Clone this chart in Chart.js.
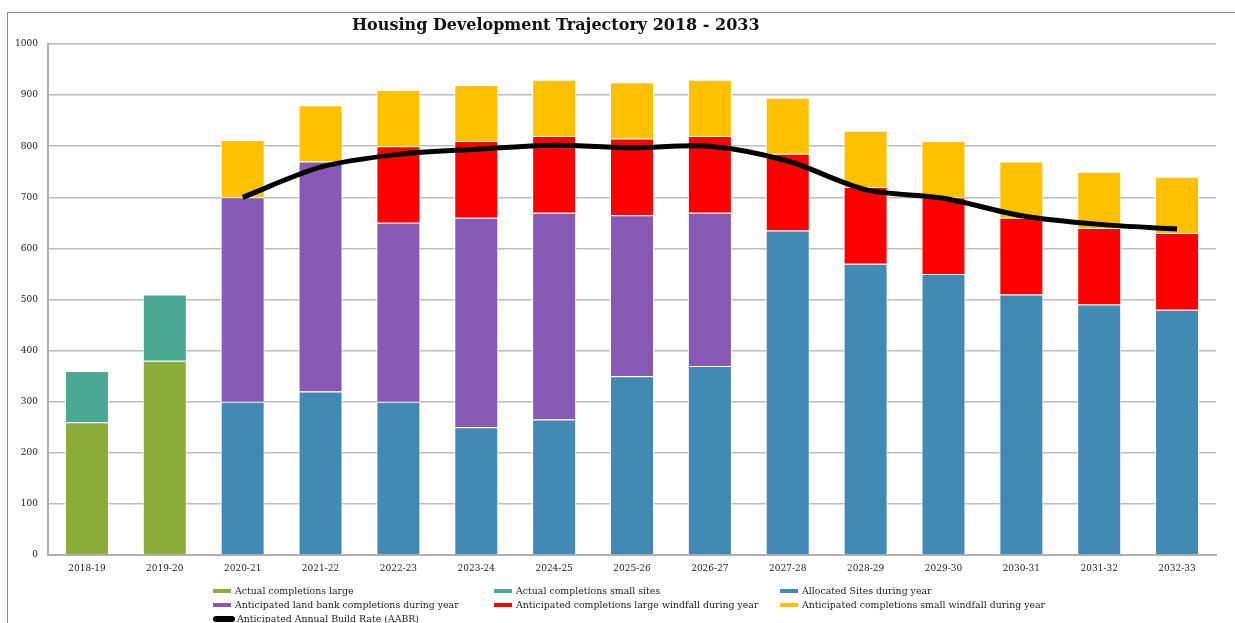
<!DOCTYPE html>
<html>
<head>
<meta charset="utf-8">
<script src="https://cdn.jsdelivr.net/npm/chart.js@4.4.1/dist/chart.umd.min.js"></script>
<style>
  html, body { margin: 0; padding: 0; background: #fff; }
  #wrap { position: relative; width: 1235px; height: 623px; overflow: hidden; }
  #frame { position: absolute; left: 7px; top: 12px; width: 1300px; height: 700px;
           border-top: 1px solid #8a8a8a; border-left: 1px solid #8a8a8a; box-sizing: border-box; }
  canvas { position: absolute; left: 0; top: 0; }
  #title { position: absolute; left: 352px; width: 400px; top: 15px; text-align: center;
           font-family: "DejaVu Serif", serif; font-weight: bold; font-size: 16px; color: #111;
           line-height: 20px; white-space: nowrap; }
  .lg { position: absolute; font-family: "DejaVu Serif", serif; font-size: 9.4px; color: #222;
        white-space: nowrap; line-height: 12px; }
  .lg i { display: inline-block; width: 18px; height: 4px; vertical-align: middle; margin-right: 4px; margin-top: -2px; }
</style>
</head>
<body>
<div id="wrap">
  <div id="frame"></div>
  <canvas id="c" width="1235" height="623"></canvas>
  <div id="title">Housing Development Trajectory 2018 - 2033</div>
  <div id="legend"></div>
</div>
<script>
const categories = ["2018-19","2019-20","2020-21","2021-22","2022-23","2023-24","2024-25","2025-26","2026-27","2027-28","2028-29","2029-30","2030-31","2031-32","2032-33"];
const actualLarge   = [260, 380, 0, 0, 0, 0, 0, 0, 0, 0, 0, 0, 0, 0, 0];
const actualSmall   = [100, 130, 0, 0, 0, 0, 0, 0, 0, 0, 0, 0, 0, 0, 0];
const allocated     = [0, 0, 300, 320, 300, 250, 265, 350, 370, 635, 570, 550, 510, 490, 480];
const landBank      = [0, 0, 400, 450, 350, 410, 405, 315, 300, 0, 0, 0, 0, 0, 0];
const largeWindfall = [0, 0, 0, 0, 150, 150, 150, 150, 150, 150, 150, 150, 150, 150, 150];
const smallWindfall = [0, 0, 112, 110, 110, 110, 110, 110, 110, 110, 110, 110, 110, 110, 110];
const aabr          = [null, null, 700, 759, 784, 794, 802, 797, 800, 771, 715, 698, 664, 647, 638];
const yTicks        = [0, 100, 200, 300, 400, 500, 600, 700, 800, 900, 1000];

const seriesNames = [
  "Actual completions large",
  "Actual completions small sites",
  "Allocated Sites during year",
  "Anticipated land bank completions during year",
  "Anticipated completions large windfall during year",
  "Anticipated completions small windfall during year",
  "Anticipated Annual Build Rate (AABR)"
];
const colors = ["#8CAD3A", "#4BA893", "#428AB3", "#8759B2", "#FF0000", "#FFC000", "#000000"];
const barSeries = [actualLarge, actualSmall, allocated, landBank, largeWindfall, smallWindfall];

const datasets = barSeries.map((d, i) => ({
  type: 'bar',
  label: seriesNames[i],
  data: d.map(v => v === 0 ? null : v),
  backgroundColor: colors[i],
  borderColor: '#ffffff',
  borderWidth: 1,
  stack: 'bars',
  order: 1,
  barPercentage: 0.565,
  categoryPercentage: 1.0
}));
datasets.push({
  type: 'line',
  label: seriesNames[6],
  data: aabr,
  borderColor: '#000000',
  backgroundColor: '#000000',
  borderWidth: 5,
  pointRadius: 0,
  tension: 0.3,
  stack: 'line',
  order: 0,
  spanGaps: false
});

const tickFont = { family: "DejaVu Serif", size: 9 };

new Chart(document.getElementById('c'), {
  data: { labels: categories, datasets },
  options: {
    responsive: false,
    animation: false,
    layout: { padding: { left: 0, right: 19, top: 44, bottom: 48 } },
    plugins: {
      legend: { display: false },
      tooltip: { enabled: false },
      title: { display: false }
    },
    scales: {
      x: {
        stacked: true,
        grid: { display: false, drawTicks: false },
        border: { color: '#b0b0b0', width: 2 },
        ticks: { color: '#222', font: tickFont, padding: 8, maxRotation: 0 },
        afterFit: s => { s.height = 20; }
      },
      y: {
        stacked: true,
        min: 0, max: 1000,
        afterBuildTicks: s => { s.ticks = yTicks.map(v => ({ value: v })); },
        grid: { color: '#bdbdbd', lineWidth: 1.5, drawTicks: false },
        border: { color: '#b0b0b0', width: 2 },
        ticks: { color: '#222', font: tickFont, padding: 10, callback: v => String(v) },
        afterFit: s => { s.width = 48; }
      }
    }
  }
});

// HTML legend built from the series names/colours
const cols = [213, 494, 780];
const rows = [585, 599, 613];
const lg = document.getElementById('legend');
seriesNames.forEach((name, i) => {
  const el = document.createElement('div');
  el.className = 'lg';
  el.style.left = cols[i % 3] + 'px';
  el.style.top = rows[Math.floor(i / 3)] + 'px';
  const sw = document.createElement('i');
  sw.style.background = colors[i];
  if (i === 6) { sw.style.width = '22px'; sw.style.height = '6px'; sw.style.borderRadius = '3px'; sw.style.marginRight = '2px'; }
  el.appendChild(sw);
  el.appendChild(document.createTextNode(name));
  lg.appendChild(el);
});
</script>
</body>
</html>
